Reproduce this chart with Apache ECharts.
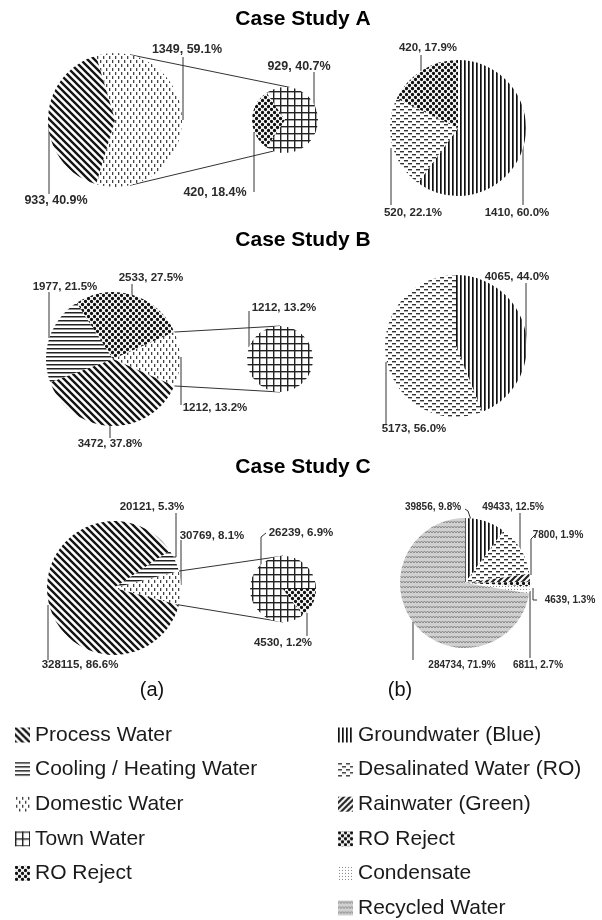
<!DOCTYPE html>
<html><head><meta charset="utf-8">
<script src="https://cdn.jsdelivr.net/npm/echarts@6/dist/echarts.min.js"></script>
<style>html,body{margin:0;padding:0;background:#fff}#c{width:602px;height:920px}</style>
</head><body><div id="c"></div>
<script>
// ---------------- DATA ----------------
const caseTitles = ['Case Study A', 'Case Study B', 'Case Study C'];
const panelLabels = ['(a)', '(b)'];

const aMainNames = ['Domestic Water', 'Process Water'];
const aMainValues = [1349, 933];
const aMainPct = [59.1, 40.9];
const aSecNames = ['Town Water', 'RO Reject'];
const aSecValues = [929, 420];
const aSecPct = [40.7, 18.4];
const aSrcNames = ['Groundwater (Blue)', 'Desalinated Water (RO)', 'RO Reject'];
const aSrcValues = [1410, 520, 420];
const aSrcPct = [60.0, 22.1, 17.9];

const bMainNames = ['Domestic Water', 'Process Water', 'Cooling / Heating Water', 'RO Reject'];
const bMainValues = [1212, 3472, 1977, 2533];
const bMainPct = [13.2, 37.8, 21.5, 27.5];
const bSecNames = ['Town Water'];
const bSecValues = [1212];
const bSecPct = [13.2];
const bSrcNames = ['Groundwater (Blue)', 'Desalinated Water (RO)'];
const bSrcValues = [4065, 5173];
const bSrcPct = [44.0, 56.0];

const cMainNames = ['Domestic Water', 'Process Water', 'Cooling / Heating Water'];
const cMainValues = [30769, 328115, 20121];
const cMainPct = [8.1, 86.6, 5.3];
const cSecNames = ['Town Water', 'RO Reject'];
const cSecValues = [26239, 4530];
const cSecPct = [6.9, 1.2];
const cSrcNames = ['Groundwater (Blue)', 'Desalinated Water (RO)', 'Rainwater (Green)', 'RO Reject', 'Condensate', 'Recycled Water'];
const cSrcValues = [39856, 49433, 7800, 4639, 6811, 284734];
const cSrcPct = [9.8, 12.5, 1.9, 1.3, 2.7, 71.9];

const legendUse = ['Process Water', 'Cooling / Heating Water', 'Domestic Water', 'Town Water', 'RO Reject'];
const legendSource = ['Groundwater (Blue)', 'Desalinated Water (RO)', 'Rainwater (Green)', 'RO Reject', 'Condensate', 'Recycled Water'];

// ---------------- STYLE / LAYOUT ----------------
const FONT = "'Liberation Sans', Arial, Helvetica, sans-serif";

function tile(w, h, bg, fn) {
  const c = document.createElement('canvas');
  c.width = w; c.height = h;
  const g = c.getContext('2d');
  g.fillStyle = bg; g.fillRect(0, 0, w, h);
  fn(g, w, h);
  return c;
}
function dots(g, pts, r) { pts.forEach(p => { g.beginPath(); g.arc(p[0], p[1], r, 0, Math.PI * 2); g.fill(); }); }
const PAT = {
  'Process Water': tile(7, 7, '#fff', g => { g.strokeStyle = '#151515'; g.lineWidth = 2.4; g.beginPath(); [-7, 0, 7].forEach(o => { g.moveTo(o - 1, -1); g.lineTo(o + 8, 8); }); g.stroke(); }),
  'Cooling / Heating Water': tile(4, 4, '#fff', g => { g.fillStyle = '#222'; g.fillRect(0, 0, 4, 1.5); }),
  'Domestic Water': tile(6, 8, '#fff', g => { g.fillStyle = '#444'; g.fillRect(1, 0, 1.3, 3); g.fillRect(4, 4, 1.3, 3); }),
  'Town Water': tile(7, 7, '#fff', g => { g.fillStyle = '#222'; g.fillRect(0, 0, 7, 1.4); g.fillRect(0, 0, 1.4, 7); }),
  'RO Reject': tile(6, 6, '#fff', g => { g.fillStyle = '#111'; dots(g, [[1.5, 1.5], [4.5, 4.5], [7.5, 7.5], [-1.5, -1.5], [7.5, 1.5], [1.5, 7.5], [-1.5, 4.5], [4.5, -1.5]], 1.65); }),
  'Groundwater (Blue)': tile(4, 4, '#fff', g => { g.fillStyle = '#111'; g.fillRect(0, 0, 1.7, 4); }),
  'Desalinated Water (RO)': tile(8, 6, '#fff', g => { g.fillStyle = '#333'; g.fillRect(0, 1, 4, 1.4); g.fillRect(4, 4, 4, 1.4); }),
  'Rainwater (Green)': tile(6, 6, '#fff', g => { g.strokeStyle = '#222'; g.lineWidth = 2.2; g.beginPath(); [-6, 0, 6].forEach(o => { g.moveTo(o - 1, 7); g.lineTo(o + 7, -1); }); g.stroke(); }),
  'Condensate': tile(3, 3, '#fff', g => { g.fillStyle = '#888'; g.fillRect(1, 1, 1, 1); }),
  'Recycled Water': tile(6, 5, '#d0d0d0', g => { g.strokeStyle = '#888'; g.lineWidth = 1; g.beginPath(); g.moveTo(0, 3); g.lineTo(1.5, 1); g.lineTo(3, 3); g.lineTo(4.5, 1); g.lineTo(6, 3); g.stroke(); })
};

// pie geometry: centre, radius, startAngle
const GEO = {
  aMain: { cx: 115, cy: 120, r: 67 }, aSec: { cx: 285, cy: 120, r: 33, start: 124 }, aSrc: { cx: 458, cy: 128, r: 68, start: 90 },
  bMain: { cx: 113, cy: 359, r: 67 }, bSec: { cx: 280, cy: 359, r: 33, start: 90 }, bSrc: { cx: 456, cy: 346, r: 71, start: 90 },
  cMain: { cx: 114, cy: 588, r: 67 }, cSec: { cx: 283, cy: 589, r: 33, start: -53 }, cSrc: { cx: 465, cy: 583, r: 65, start: 90 }
};
// "other" wedge of each main pie is centred on 3 o'clock
function otherStart(values) { const s = values.reduce((a, b) => a + b, 0); return values[0] / s * 180; }
GEO.aMain.start = otherStart(aMainValues);
GEO.bMain.start = otherStart(bMainValues);
GEO.cMain.start = otherStart(cMainValues);

// label placement relative to pie centre: [dx, dy, leader points]
const LBL = {
  aMain: [[72, -70, [[68, 0], [68, -63]]], [-59, 81, [[-66, 2], [-66, 74]]]],
  aSec: [[14, -53, [[29, -12], [29, -48]]], [-70, 73, [[-31, 12], [-31, 72]]]],
  aSrc: [[59, 85, [[65, -18], [65, 77]]], [-45, 85, [[-67, 20], [-67, 77]]], [-30, -80, [[-37, -57], [-37, -73]]]],
  bMain: [[102, 49, [[68, -2], [68, 46]]], [-3, 85, [[-3, 66], [-3, 79]]], [-48, -72, [[-64, -21], [-64, -67]]], [38, -81, [[19, -64], [19, -75]]]],
  bSec: [[4, -51, [[-31, -12], [-31, -48]]]],
  bSrc: [[61, -69, [[70, -1], [70, -63]]], [-42, 83, [[-70, 16], [-70, 79]]]],
  cMain: [[98, -52, [[67, -3], [67, -48]]], [-34, 77, [[-66, 17], [-66, 72]]], [38, -81, [[56, -31], [62, -31], [62, -75]]]],
  cSec: [[18, -56, [[-22, -24], [-22, -52], [-17, -56]]], [0, 54, [[24, 24], [24, 47]]]],
  cSrc: [[-32, -76, [[6, -63], [3, -72], [0, -74]]], [48, -76, [[55, -32], [55, -70]]], [93, -48, [[66, -8], [66, -44], [70, -48]]],
         [105, 17, [[68, 5], [68, 17], [72, 17]]], [73, 82, [[65, 8], [65, 75]]], [-3, 82, [[-52, 39], [-52, 77]]]]
};

function mkData(names, values) {
  return names.map((n, i) => ({ name: n, value: values[i], itemStyle: { color: { image: PAT[n], repeat: 'repeat' } } }));
}
function pieSeries(key, names, values, pct, fs) {
  const geo = GEO[key], L = LBL[key];
  return {
    type: 'pie', id: key, center: [geo.cx, geo.cy], radius: geo.r, startAngle: geo.start, clockwise: true,
    animation: false, avoidLabelOverlap: false, emphasis: { disabled: true },
    data: mkData(names, values),
    itemStyle: { borderWidth: 0 },
    label: {
      show: true, position: 'outside',
      formatter: p => values[p.dataIndex] + ', ' + pct[p.dataIndex].toFixed(1) + '%',
      fontFamily: FONT, fontWeight: 'bold', fontSize: fs, color: '#2a2a2a'
    },
    labelLine: { show: true, lineStyle: { color: '#333', width: 1 } },
    labelLayout: p => {
      const l = L[p.dataIndex];
      return { x: geo.cx + l[0], y: geo.cy + l[1], align: 'center', verticalAlign: 'middle',
        labelLinePoints: l[2].map(q => [geo.cx + q[0], geo.cy + q[1]]) };
    }
  };
}

// connector lines between main pie and secondary pie
function pt(g, degCw, rr) { const a = degCw * Math.PI / 180; return [g.cx + (rr || g.r) * Math.sin(a), g.cy - (rr || g.r) * Math.cos(a)]; }
function connectors(mainKey, secKey, aTop, aBot, sTop, sBot) {
  const m = GEO[mainKey], s = GEO[secKey];
  const p1 = pt(m, aTop), p2 = pt(s, sTop), p3 = pt(m, aBot), p4 = pt(s, sBot);
  return [
    { type: 'line', shape: { x1: p1[0], y1: p1[1], x2: p2[0], y2: p2[1] }, style: { stroke: '#333', lineWidth: 1 } },
    { type: 'line', shape: { x1: p3[0], y1: p3[1], x2: p4[0], y2: p4[1] }, style: { stroke: '#333', lineWidth: 1 } }
  ];
}
const bHalf = bMainValues[0] / bMainValues.reduce((a, b) => a + b, 0) * 180;
const cHalf = cMainValues[0] / cMainValues.reduce((a, b) => a + b, 0) * 180;

const titleY = [19, 240, 467];
const graphics = []
  .concat(connectors('aMain', 'aSec', 13, 167, 8, 200))
  .concat(connectors('bMain', 'bSec', 90 - bHalf, 90 + bHalf, 0, 180))
  .concat(connectors('cMain', 'cSec', 90 - cHalf, 90 + cHalf, 0, 180))
  .concat(caseTitles.map((t, i) => ({ type: 'text', x: 303, y: titleY[i], style: { text: t, fontFamily: FONT, fontWeight: 'bold', fontSize: 21, fill: '#000', align: 'center', verticalAlign: 'middle' } })))
  .concat(panelLabels.map((t, i) => ({ type: 'text', x: [152, 400][i], y: 690, style: { text: t, fontFamily: FONT, fontSize: 20, fill: '#111', align: 'center', verticalAlign: 'middle' } })));

const legendText = { fontFamily: FONT, fontSize: 21, color: '#1a1a1a', lineHeight: 24 };
const option = {
  backgroundColor: '#fff',
  animation: false,
  legend: [
    { orient: 'vertical', left: 15, top: 723, itemWidth: 15, itemHeight: 15, itemGap: 10.6, icon: 'rect', selectedMode: false, data: legendUse, textStyle: legendText, padding: 0 },
    { orient: 'vertical', left: 338, top: 723, itemWidth: 15, itemHeight: 15, itemGap: 10.6, icon: 'rect', selectedMode: false, data: legendSource, textStyle: legendText, padding: 0 }
  ],
  graphic: graphics,
  series: [
    pieSeries('aMain', aMainNames, aMainValues, aMainPct, 12.5),
    pieSeries('aSec', aSecNames, aSecValues, aSecPct, 12.5),
    pieSeries('aSrc', aSrcNames, aSrcValues, aSrcPct, 11.5),
    pieSeries('bMain', bMainNames, bMainValues, bMainPct, 11.5),
    pieSeries('bSec', bSecNames, bSecValues, bSecPct, 11.5),
    pieSeries('bSrc', bSrcNames, bSrcValues, bSrcPct, 11.5),
    pieSeries('cMain', cMainNames, cMainValues, cMainPct, 11.5),
    pieSeries('cSec', cSecNames, cSecValues, cSecPct, 11.5),
    pieSeries('cSrc', cSrcNames, cSrcValues, cSrcPct, 10)
  ]
};
const chart = echarts.init(document.getElementById('c'), null, { renderer: 'canvas', width: 602, height: 920 });
chart.setOption(option);
</script>
</body></html>
